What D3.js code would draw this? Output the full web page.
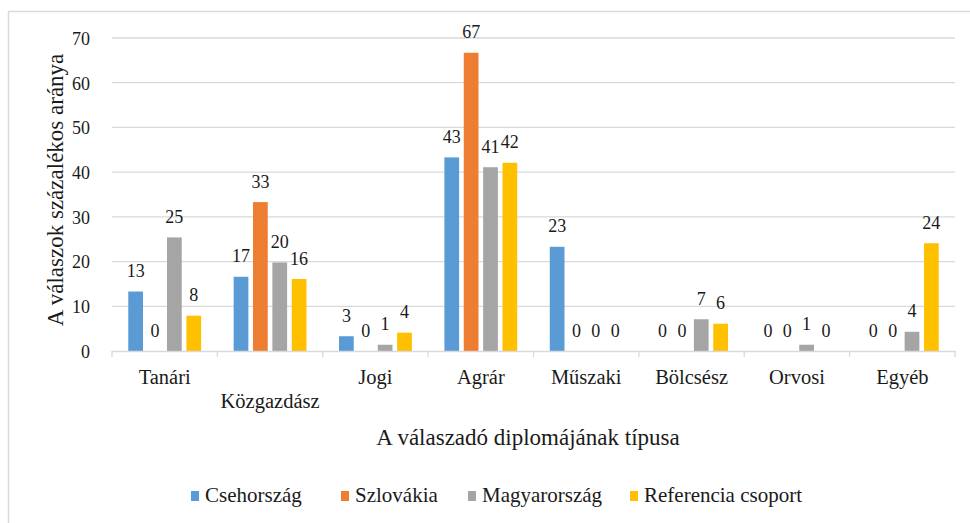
<!DOCTYPE html>
<html><head><meta charset="utf-8">
<script src="https://cdn.jsdelivr.net/npm/d3@7"></script>
</head><body style="margin:0"><svg id="c" width="970" height="523" style="font-family:'Times New Roman','Liberation Serif',Tinos"></svg>
<script>
const categories = ["Tanári","Közgazdász","Jogi","Agrár","Műszaki","Bölcsész","Orvosi","Egyéb"];
const seriesNames = ["Csehország","Szlovákia","Magyarország","Referencia csoport"];
const cseh = [13.3, 16.6, 3.3, 43.3, 23.3, 0, 0, 0];
const szlovakia = [0, 33.3, 0, 66.7, 0, 0, 0, 0];
const magyar = [25.4, 19.8, 1.4, 41.1, 0, 7.1, 1.4, 4.3];
const referencia = [7.9, 16.1, 4.1, 42.1, 0, 6.1, 0, 24.1];
const yTicks = [0,10,20,30,40,50,60,70];
const colors = ["#5b9bd5","#ed7d31","#a5a5a5","#ffc000"];
const yTitle = "A válaszok százalékos aránya";
const xTitle = "A válaszadó diplomájának típusa";

const INK = "#1a1a1a";
const series = [cseh, szlovakia, magyar, referencia];
const svg = d3.select("#c");
function serif(sel, size) {
  return sel.style("font-family", d => '"Times New Roman"').style("font-size", size + "px").attr("fill", INK);
}
svg.append("rect").attr("x",8.5).attr("y",11.5).attr("width",1200).attr("height",1000)
  .attr("fill","none").attr("stroke","#d9d9d9").attr("stroke-width",1.5);

const pLeft = 112, pRight = 955, pTop = 38, pBottom = 351;
const x0 = d3.scaleBand().domain(categories).range([pLeft, pRight]);
const x1 = d3.scaleBand().domain(seriesNames).range([0, x0.bandwidth()]).paddingInner(0.24).paddingOuter(0.84);
const y = d3.scaleLinear().domain([0,70]).range([pBottom, pTop]);

// gridlines
svg.append("g").selectAll("line").data(yTicks.filter(t=>t>0)).join("line")
  .attr("x1", pLeft).attr("x2", pRight).attr("y1", d=>y(d)).attr("y2", d=>y(d))
  .attr("stroke","#d9d9d9").attr("stroke-width",1.3);

// y tick labels
const yAxis = d3.axisLeft(y).tickValues(yTicks).tickSize(0).tickPadding(0);
const gy = svg.append("g").attr("transform",`translate(90,0)`).call(yAxis);
gy.attr("font-family", null).attr("font-size", null);
gy.select(".domain").remove();
serif(gy.selectAll("text"), 18).attr("dy","0.35em");

// bars
const rows = [];
series.forEach((vals, si) => vals.forEach((v, ci) => rows.push({s: seriesNames[si], si, c: categories[ci], v})));
svg.append("g").selectAll("rect").data(rows).join("rect")
  .attr("x", d=>x0(d.c)+x1(d.s)).attr("width", x1.bandwidth())
  .attr("y", d=>y(d.v)).attr("height", d=>y(0)-y(d.v))
  .attr("fill", d=>colors[d.si]);

// value labels
serif(svg.append("g").selectAll("text").data(rows).join("text")
  .attr("x", d=>x0(d.c)+x1(d.s)+x1.bandwidth()/2)
  .attr("y", d=>y(d.v)-14.5)
  .attr("text-anchor","middle"), 18)
  .text(d=>d3.format(".0f")(d.v));

// x axis
const xAxis = d3.axisBottom(x0).tickSize(0).tickFormat("");
const gx = svg.append("g").attr("transform",`translate(0,${pBottom})`).call(xAxis);
gx.select(".domain").attr("stroke","#d9d9d9").attr("stroke-width",1.3);
const bounds = categories.map(c=>x0(c)).concat([pRight]);
svg.append("g").selectAll("line").data(bounds).join("line")
  .attr("x1", d=>d).attr("x2", d=>d).attr("y1", pBottom).attr("y2", pBottom+6)
  .attr("stroke","#d9d9d9").attr("stroke-width",1.3);

const staggered = new Set(["Közgazdász"]);
serif(svg.append("g").selectAll("text").data(categories).join("text")
  .attr("x", d=>x0(d)+x0.bandwidth()/2)
  .attr("y", d=> staggered.has(d) ? 408 : 384)
  .attr("text-anchor","middle"), 20.5)
  .text(d=>d);

// titles
serif(svg.append("text").attr("transform","translate(63,190) rotate(-90)")
  .attr("text-anchor","middle"), 23).text(yTitle);
serif(svg.append("text").attr("x",528).attr("y",445)
  .attr("text-anchor","middle"), 23).text(xTitle);

// legend
const legX = [191, 341, 468, 630];
const leg = svg.append("g").selectAll("g").data(seriesNames).join("g")
  .attr("transform",(d,i)=>`translate(${legX[i]},0)`);
leg.append("rect").attr("x",0).attr("y",491).attr("width",8).attr("height",10).attr("fill",(d,i)=>colors[i]);
serif(leg.append("text").attr("x",14).attr("y",502), 21).text(d=>d);
</script></body></html>
